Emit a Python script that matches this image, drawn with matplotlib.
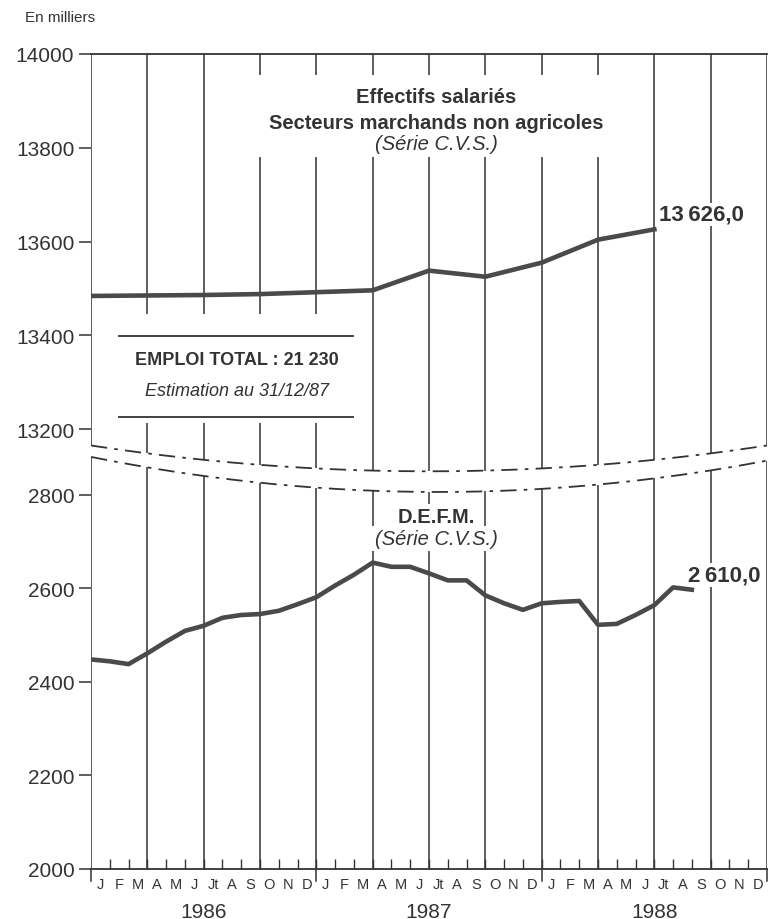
import matplotlib.pyplot as plt
import numpy as np
from matplotlib.patches import Rectangle

plt.rcParams['font.family'] = ['Liberation Sans', 'DejaVu Sans']
ink = '#333333'
line_col = '#4a4a48'

months = ['J', 'F', 'M', 'A', 'M', 'J', 'Jt', 'A', 'S', 'O', 'N', 'D']
years = ['1986', '1987', '1988']

# effectifs salariés (trimestriel, de janv. 1986 a juil. 1988)
eff_x = np.arange(0, 31, 3)
eff = [13484, 13485, 13486, 13488, 13492, 13496, 13538, 13525, 13555, 13604, 13626]

# D.E.F.M. (mensuel, janv. 1986 -> sept. 1988)
defm = [2448, 2444, 2438, 2461, 2486, 2509, 2520, 2537, 2543, 2545, 2552, 2566,
        2581, 2606, 2629, 2655, 2646, 2646, 2632, 2617, 2617, 2585, 2568, 2554,
        2568, 2571, 2573, 2522, 2524, 2543, 2564, 2602, 2597]
defm_x = np.arange(len(defm))


def upper_break(m):
    return 13110 + 0.17 * (m - 18) ** 2


def lower_break(m):
    return 2806 + 0.219 * (m - 18.5) ** 2


fig = plt.figure(figsize=(7.7, 9.2), dpi=100)
ax1 = fig.add_axes([91/770, 1 - 477/920, 676/770, 422/920])
ax2 = fig.add_axes([91/770, 1 - 870/920, 676/770, 421/920])

for ax in (ax1, ax2):
    ax.set_facecolor('none')
    ax.set_xlim(0, 36)
    for s in ['left', 'right']:
        ax.spines[s].set_visible(False)
    ax.tick_params(axis='y', direction='out', length=9, width=1.1, pad=3,
                   labelsize=15, color=ink, labelcolor=ink)
ax1.spines['bottom'].set_visible(False)
ax1.spines['top'].set_linewidth(1.3)
ax1.spines['top'].set_color(ink)
ax2.spines['top'].set_visible(False)
ax2.spines['bottom'].set_linewidth(1.3)
ax2.spines['bottom'].set_color(ink)

ax1.set_ylim(13100, 14000)
ax2.set_ylim(2000, 2900)
ax1.set_yticks([13200, 13400, 13600, 13800, 14000])
ax2.set_yticks([2000, 2200, 2400, 2600, 2800])
ax1.set_xticks([])

# grille trimestrielle
q = np.arange(0, 37, 3)
ax1.vlines(q, upper_break(q), 14000, color=ink, lw=1.1, zorder=1)
ax2.vlines(q, 2000, lower_break(q), color=ink, lw=1.1, zorder=1)

# coupure d'axe
mm = np.linspace(0, 36, 200)
ax1.plot(mm, upper_break(mm), color=ink, lw=1.3, ls=(0, (9, 4, 2, 4)), clip_on=False)
ax2.plot(mm, lower_break(mm), color=ink, lw=1.3, ls=(0, (9, 4, 2, 4)), clip_on=False)

# mois / annees
ax2.set_xticks(np.arange(36) + 0.5)
ax2.set_xticklabels(months * 3, fontsize=10.5, color=ink)
ax2.tick_params(axis='x', which='major', length=0, pad=6)
ax2.set_xticks(np.arange(1, 36), minor=True)
ax2.tick_params(axis='x', which='minor', direction='in', length=7, width=1, color=ink)
trans = ax2.get_xaxis_transform()
for m in [0, 12, 24, 36]:
    ax2.plot([m, m], [0, -0.028], transform=trans, clip_on=False, color=ink, lw=1.1)
for i, y in enumerate(years):
    ax2.text(12 * i + 6, -0.1, y, transform=trans, ha='center', va='center',
             fontsize=15, color=ink)

# series
ax1.plot(eff_x, eff, color=line_col, lw=3.3, solid_joinstyle='round', zorder=5)
ax2.plot(defm_x, defm, color=line_col, lw=3.3, solid_joinstyle='round', zorder=5)

# titre du haut
ax1.add_patch(Rectangle((8.2, 13781), 20.6, 175, fc='white', ec='none', zorder=3))
ax1.text(18.4, 13910, 'Effectifs salariés', ha='center', va='center', fontsize=14.5,
         fontweight='bold', color=ink, zorder=4)
ax1.text(18.4, 13854, 'Secteurs marchands non agricoles', ha='center', va='center',
         fontsize=14.5, fontweight='bold', color=ink, zorder=4)
ax1.text(18.4, 13809, '(Série C.V.S.)', ha='center', va='center', fontsize=14.5,
         fontstyle='italic', color=ink, zorder=4)

# encadre emploi total
ax1.add_patch(Rectangle((0.12, 13212), 14.75, 233, fc='white', ec='none', zorder=3))
ax1.hlines([13398, 13225], 1.43, 14.0, color=ink, lw=1.3, zorder=4)
ax1.text(7.75, 13348, 'EMPLOI TOTAL : 21 230', ha='center', va='center', fontsize=13,
         fontweight='bold', color=ink, zorder=4)
ax1.text(7.75, 13282, 'Estimation au 31/12/87', ha='center', va='center', fontsize=13,
         fontstyle='italic', color=ink, zorder=4)

ax1.text(30.25, 13658, '13\u2009626,0', va='center', fontsize=16, fontweight='bold',
         color=ink, zorder=4, bbox=dict(fc='white', ec='none', pad=1))

# titre du bas
ax2.text(18.4, 2753, 'D.E.F.M.', ha='center', va='center', fontsize=14.5,
         fontweight='bold', color=ink, zorder=4, bbox=dict(fc='white', ec='none', pad=2))
ax2.text(18.4, 2706, '(Série C.V.S.)', ha='center', va='center', fontsize=14.5,
         fontstyle='italic', color=ink, zorder=4, bbox=dict(fc='white', ec='none', pad=2))
ax2.text(31.8, 2628, '2\u2009610,0', va='center', fontsize=16, fontweight='bold',
         color=ink, zorder=4, bbox=dict(fc='white', ec='none', pad=1))

fig.text(25/770, 1 - 18/920, 'En milliers', fontsize=11, va='center', color=ink)

fig.savefig('out.png', dpi=100)
